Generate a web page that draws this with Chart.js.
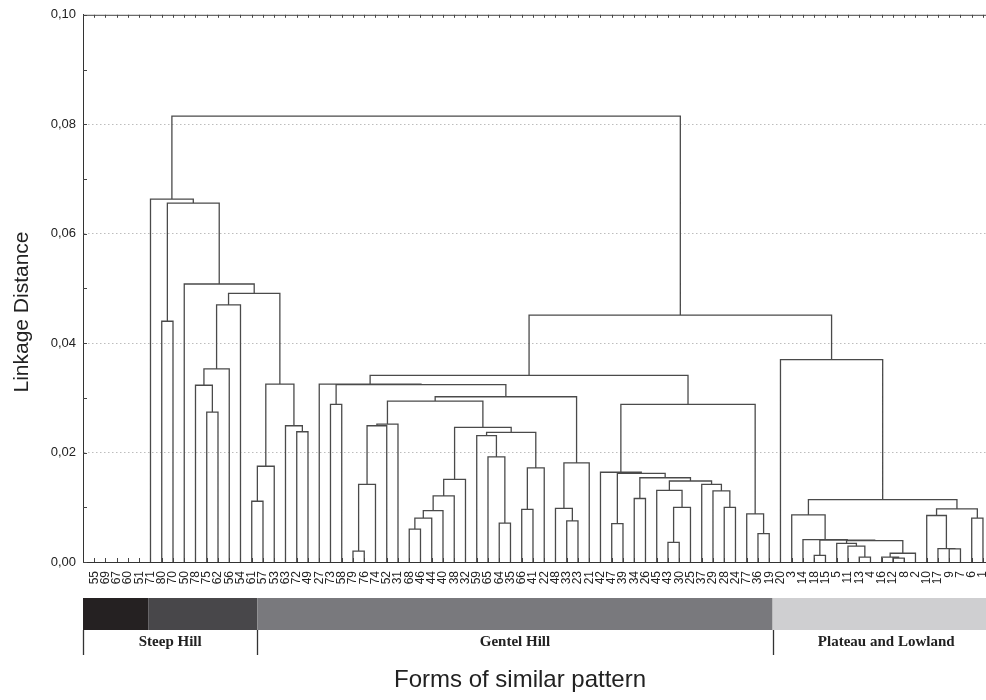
<!DOCTYPE html>
<html lang="en">
<head>
<meta charset="UTF-8">
<title>Linkage Distance dendrogram</title>
<script src="https://cdn.jsdelivr.net/npm/chart.js"></script>
<style>
  body { margin: 0; background: #fff; }
  canvas { display: block; }
</style>
</head>
<body>
<canvas id="tree" width="986" height="700"></canvas>
<script>
// leaf order along the x axis (left to right)
const leafLabels = [55, 69, 67, 60, 51, 71, 80, 70, 50, 78, 75, 62, 56, 54, 61, 57, 53, 63, 72, 49,
  27, 73, 58, 79, 76, 74, 52, 31, 68, 46, 44, 40, 38, 32, 59, 65, 64, 35, 66, 41,
  22, 48, 33, 23, 21, 42, 47, 39, 34, 26, 45, 43, 30, 25, 37, 29, 28, 24, 77, 36,
  19, 20, 3, 14, 18, 15, 5, 11, 13, 4, 16, 12, 8, 2, 10, 17, 9, 7, 6, 1];

// merges: [child a, child b, linkage distance]; numbers are leaves, 'mN' is merge row N
const merges = [
  [75, 62, 0.0274],        // m0
  [78, 'm0', 0.0323],      // m1
  ['m1', 56, 0.0353],      // m2
  ['m2', 54, 0.0470],      // m3
  [61, 57, 0.0111],        // m4
  ['m4', 53, 0.0175],      // m5
  [72, 49, 0.0238],        // m6
  [63, 'm6', 0.0249],      // m7
  ['m5', 'm7', 0.0325],    // m8
  ['m3', 'm8', 0.0491],    // m9
  [50, 'm9', 0.0508],      // m10
  [80, 70, 0.0440],        // m11
  ['m11', 'm10', 0.0656],  // m12
  [71, 'm12', 0.0663],     // m13
  [73, 58, 0.0288],        // m14
  [79, 76, 0.0020],        // m15
  ['m15', 74, 0.0142],     // m16
  ['m16', 52, 0.0249],     // m17
  ['m17', 31, 0.0252],     // m18
  [68, 46, 0.0060],        // m19
  ['m19', 44, 0.0080],     // m20
  ['m20', 40, 0.0094],     // m21
  ['m21', 38, 0.0121],     // m22
  ['m22', 32, 0.0151],     // m23
  [64, 35, 0.0071],        // m24
  [65, 'm24', 0.0192],     // m25
  [59, 'm25', 0.0231],     // m26
  [66, 41, 0.0096],        // m27
  ['m27', 22, 0.0172],     // m28
  ['m26', 'm28', 0.0237],  // m29
  ['m23', 'm29', 0.0246],  // m30
  ['m18', 'm30', 0.0294],  // m31
  [33, 23, 0.0075],        // m32
  [48, 'm32', 0.0098],     // m33
  ['m33', 21, 0.0181],     // m34
  ['m31', 'm34', 0.0302],  // m35
  ['m14', 'm35', 0.0324],  // m36
  [27, 'm36', 0.0325],     // m37
  [47, 39, 0.0070],        // m38
  [34, 26, 0.0116],        // m39
  [43, 30, 0.0036],        // m40
  ['m40', 25, 0.0100],     // m41
  [45, 'm41', 0.0131],     // m42
  [28, 24, 0.0100],        // m43
  [29, 'm43', 0.0130],     // m44
  [37, 'm44', 0.0142],     // m45
  ['m42', 'm45', 0.0148],  // m46
  ['m39', 'm46', 0.0154],  // m47
  ['m38', 'm47', 0.0162],  // m48
  [42, 'm48', 0.0164],     // m49
  [36, 19, 0.0052],        // m50
  [77, 'm50', 0.0088],     // m51
  ['m49', 'm51', 0.0288],  // m52
  ['m37', 'm52', 0.0341],  // m53
  [13, 4, 0.0009],         // m54
  [11, 'm54', 0.0029],     // m55
  [5, 'm55', 0.0034],      // m56
  [12, 8, 0.0007],         // m57
  [16, 'm57', 0.0009],     // m58
  ['m58', 2, 0.0016],      // m59
  ['m56', 'm59', 0.0039],  // m60
  [18, 15, 0.0012],        // m61
  ['m61', 'm60', 0.0040],  // m62
  [14, 'm62', 0.0041],     // m63
  [3, 'm63', 0.0086],      // m64
  [9, 7, 0.0024],          // m65
  [17, 'm65', 0.00245],    // m66
  [10, 'm66', 0.0085],     // m67
  [6, 1, 0.0080],          // m68
  ['m67', 'm68', 0.0097],  // m69
  ['m64', 'm69', 0.0114],  // m70
  [20, 'm70', 0.0370],     // m71
  ['m53', 'm71', 0.0451],  // m72
  ['m13', 'm72', 0.0815]   // m73
];

const yTicks = [0, 0.02, 0.04, 0.06, 0.08, 0.10];

// colour band under the axis, edges in leaf units
const bandEdges = [0, 5.8, 15.5, 61.3, 81.5];
const bandColors = ['#252122', '#48474a', '#79797d', '#cfcfd1'];
const groupNames = ['Steep Hill', 'Gentel Hill', 'Plateau and Lowland'];
const groupEdges = [0, 15.5, 61.3, 81.5];

// turn merge table into line segments (U shapes)
const leafPos = {};
leafLabels.forEach((l, i) => { leafPos[l] = i + 1; });
const nodes = {};
function nodeOf(k) {
  return typeof k === 'number' ? { x: leafPos[k], h: 0 } : nodes[k];
}
const treePoints = [];
merges.forEach(([a, b, h], i) => {
  const A = nodeOf(a), B = nodeOf(b);
  treePoints.push({ x: A.x, y: A.h }, { x: A.x, y: h }, { x: B.x, y: h }, { x: B.x, y: B.h }, { x: B.x, y: null });
  nodes['m' + i] = { x: (A.x + B.x) / 2, h: h };
});

Chart.defaults.font.family = '"Liberation Sans", Arial, sans-serif';
Chart.defaults.color = '#222';

const framePlugin = {
  id: 'frame',
  afterDraw(chart) {
    const { ctx, chartArea: ca, scales: { x, y } } = chart;
    ctx.save();
    ctx.strokeStyle = '#444';
    ctx.lineWidth = 1;
    // top border
    ctx.beginPath();
    ctx.moveTo(ca.left, ca.top + 0.5);
    ctx.lineTo(ca.right, ca.top + 0.5);
    ctx.stroke();
    // inward ticks on top and bottom axes
    ctx.beginPath();
    leafLabels.forEach((l, i) => {
      const px = Math.round(x.getPixelForValue(i + 1)) + 0.5;
      ctx.moveTo(px, ca.top);
      ctx.lineTo(px, ca.top + 3);
      ctx.moveTo(px, ca.bottom);
      ctx.lineTo(px, ca.bottom - 4);
    });
    // minor ticks on the left axis
    for (let k = 0; k <= 10; k++) {
      const py = Math.round(y.getPixelForValue(k / 100)) + 0.5;
      ctx.moveTo(ca.left, py);
      ctx.lineTo(ca.left + 4, py);
    }
    ctx.stroke();

    // colour band
    const bandTop = 598, bandBot = 630;
    for (let i = 0; i < bandColors.length; i++) {
      const x0 = x.getPixelForValue(bandEdges[i]);
      const x1 = x.getPixelForValue(bandEdges[i + 1]);
      ctx.fillStyle = bandColors[i];
      ctx.fillRect(x0, bandTop, x1 - x0, bandBot - bandTop);
    }
    // group separators and names
    ctx.strokeStyle = '#333';
    ctx.lineWidth = 1.3;
    ctx.beginPath();
    for (let i = 0; i < groupNames.length; i++) {
      const px = Math.round(x.getPixelForValue(groupEdges[i])) + 0.5;
      ctx.moveTo(px, bandBot);
      ctx.lineTo(px, 655);
    }
    ctx.stroke();
    ctx.fillStyle = '#222';
    ctx.font = 'bold 15px "Liberation Serif", serif';
    ctx.textAlign = 'center';
    ctx.textBaseline = 'middle';
    groupNames.forEach((g, i) => {
      const cx = (x.getPixelForValue(groupEdges[i]) + x.getPixelForValue(groupEdges[i + 1])) / 2;
      ctx.fillText(g, cx, 642);
    });

    // axis titles
    ctx.font = '24px "Liberation Sans", Arial, sans-serif';
    ctx.fillText('Forms of similar pattern', 520, 680);
    ctx.save();
    ctx.translate(22, 312);
    ctx.rotate(-Math.PI / 2);
    ctx.font = '21px "Liberation Sans", Arial, sans-serif';
    ctx.fillText('Linkage Distance', 0, 0);
    ctx.restore();
    ctx.restore();
  }
};

new Chart(document.getElementById('tree'), {
  type: 'line',
  data: {
    datasets: [{
      data: treePoints,
      borderColor: '#4a4a4a',
      borderWidth: 1.3,
      pointRadius: 0,
      fill: false,
      tension: 0,
      spanGaps: false,
      clip: 4
    }]
  },
  options: {
    responsive: false,
    animation: false,
    devicePixelRatio: 1,
    layout: { padding: { top: 14, right: 0, left: 0, bottom: 0 } },
    plugins: { legend: { display: false }, tooltip: { enabled: false } },
    scales: {
      x: {
        type: 'linear',
        min: 0,
        max: 80.27,
        grid: { display: false, drawTicks: false },
        border: { display: true, color: '#333', width: 1 },
        afterBuildTicks: (s) => { s.ticks = leafLabels.map((l, i) => ({ value: i + 1 })); },
        afterFit: (s) => { s.height = 138; s.paddingLeft = 0; s.paddingRight = 0; },
        ticks: {
          autoSkip: false,
          minRotation: 90,
          maxRotation: 90,
          padding: 9,
          font: { size: 12 },
          color: '#222',
          callback: (v) => String(leafLabels[v - 1])
        }
      },
      y: {
        min: 0,
        max: 0.10,
        afterBuildTicks: (s) => { s.ticks = yTicks.map(v => ({ value: v })); },
        afterFit: (s) => { s.width = 83; },
        grid: {
          drawTicks: false,
          color: (c) => (c.tick && (c.tick.value < 0.001 || c.tick.value > 0.099)) ? 'rgba(0,0,0,0)' : '#bdbdbd',
          lineWidth: 1
        },
        border: { display: true, color: '#333', width: 1, dash: [1.5, 2.5] },
        ticks: {
          padding: 7,
          font: { size: 13 },
          color: '#222',
          callback: (v) => v.toFixed(2).replace('.', ',')
        }
      }
    }
  },
  plugins: [framePlugin]
});
</script>
</body>
</html>
